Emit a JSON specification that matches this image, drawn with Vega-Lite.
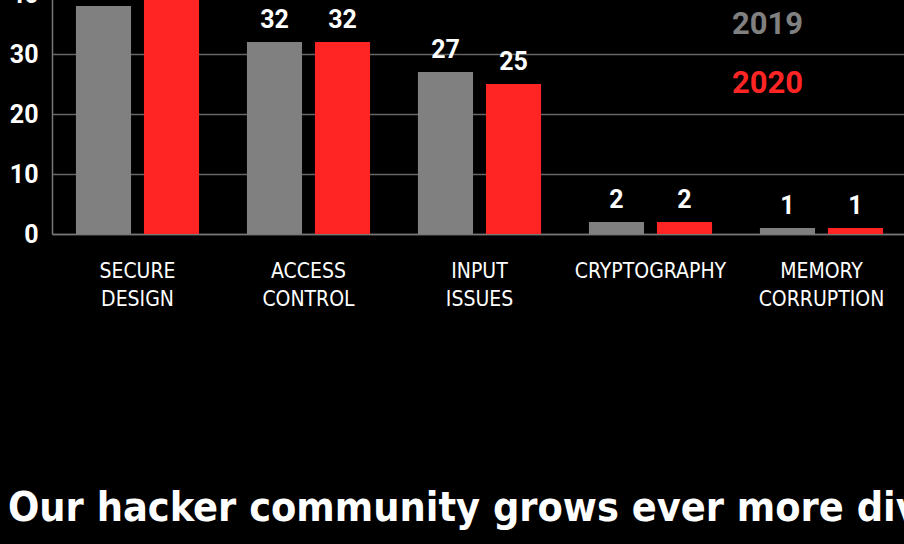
{
  "$schema": "https://vega.github.io/schema/vega-lite/v6.json",
  "autosize": "none",
  "width": 855,
  "height": 240,
  "padding": {"left": 52, "top": -6, "right": 0, "bottom": 310},
  "background": "#000000",
  "title": {
    "text": "Our hacker community grows ever more diverse",
    "orient": "bottom",
    "anchor": "start",
    "frame": "group",
    "font": "DejaVu Sans Condensed",
    "fontSize": 41,
    "fontWeight": "bold",
    "color": "#ffffff",
    "baseline": "alphabetic",
    "dx": -44,
    "offset": 212
  },
  "data": {
    "values": [
      {"category": "SECURE DESIGN", "year": "2019", "count": 38},
      {"category": "SECURE DESIGN", "year": "2020", "count": 42},
      {"category": "ACCESS CONTROL", "year": "2019", "count": 32},
      {"category": "ACCESS CONTROL", "year": "2020", "count": 32},
      {"category": "INPUT ISSUES", "year": "2019", "count": 27},
      {"category": "INPUT ISSUES", "year": "2020", "count": 25},
      {"category": "CRYPTOGRAPHY", "year": "2019", "count": 2},
      {"category": "CRYPTOGRAPHY", "year": "2020", "count": 2},
      {"category": "MEMORY CORRUPTION", "year": "2019", "count": 1},
      {"category": "MEMORY CORRUPTION", "year": "2020", "count": 1}
    ]
  },
  "encoding": {
    "x": {
      "field": "category",
      "type": "nominal",
      "sort": ["SECURE DESIGN", "ACCESS CONTROL", "INPUT ISSUES", "CRYPTOGRAPHY", "MEMORY CORRUPTION"],
      "scale": {"paddingInner": 0.28, "paddingOuter": 0.14},
      "axis": {
        "title": null,
        "labelAngle": 0,
        "labelFont": "DejaVu Sans Condensed",
        "labelFontSize": 21,
        "labelColor": "#ffffff",
        "labelLineHeight": 28,
        "labelPadding": 26,
        "labelLimit": 0,
        "labelExpr": "split(datum.label, ' ')",
        "ticks": false,
        "domainColor": "#777777",
        "domainWidth": 1.5
      }
    },
    "xOffset": {
      "field": "year",
      "type": "nominal",
      "scale": {"paddingInner": 0.19, "paddingOuter": 0}
    },
    "y": {
      "field": "count",
      "type": "quantitative",
      "scale": {"domain": [0, 40]},
      "axis": {
        "title": null,
        "values": [0, 10, 20, 30, 40],
        "labelFont": "Roboto",
        "labelFontWeight": "bold",
        "labelFontSize": 25,
        "labelColor": "#ffffff",
        "labelPadding": 14,
        "ticks": false,
        "grid": true,
        "gridColor": "#666666",
        "gridWidth": 1.5,
        "domainColor": "#777777",
        "domainWidth": 1.5
      }
    }
  },
  "layer": [
    {
      "mark": {"type": "bar", "clip": true},
      "encoding": {
        "color": {
          "field": "year",
          "type": "nominal",
          "scale": {"domain": ["2019", "2020"], "range": ["#808080", "#ff2525"]},
          "legend": {
            "orient": "none",
            "legendX": 649,
            "legendY": 15,
            "title": null,
            "symbolSize": 0,
            "symbolOpacity": 0,
            "symbolStrokeWidth": 0,
            "labelOffset": 0,
            "labelFont": "Roboto",
            "labelFontSize": 31,
            "labelFontWeight": "bold",
            "rowPadding": 27,
            "padding": 0,
            "encode": {"labels": {"update": {"fill": {"scale": "color", "field": "value"}}}}
          }
        }
      }
    },
    {
      "mark": {
        "type": "text",
        "dy": -14,
        "baseline": "alphabetic",
        "font": "Roboto",
        "fontWeight": "bold",
        "fontSize": 25,
        "color": "#ffffff"
      },
      "encoding": {"text": {"field": "count", "type": "quantitative"}}
    }
  ],
  "config": {"view": {"stroke": null}}
}
